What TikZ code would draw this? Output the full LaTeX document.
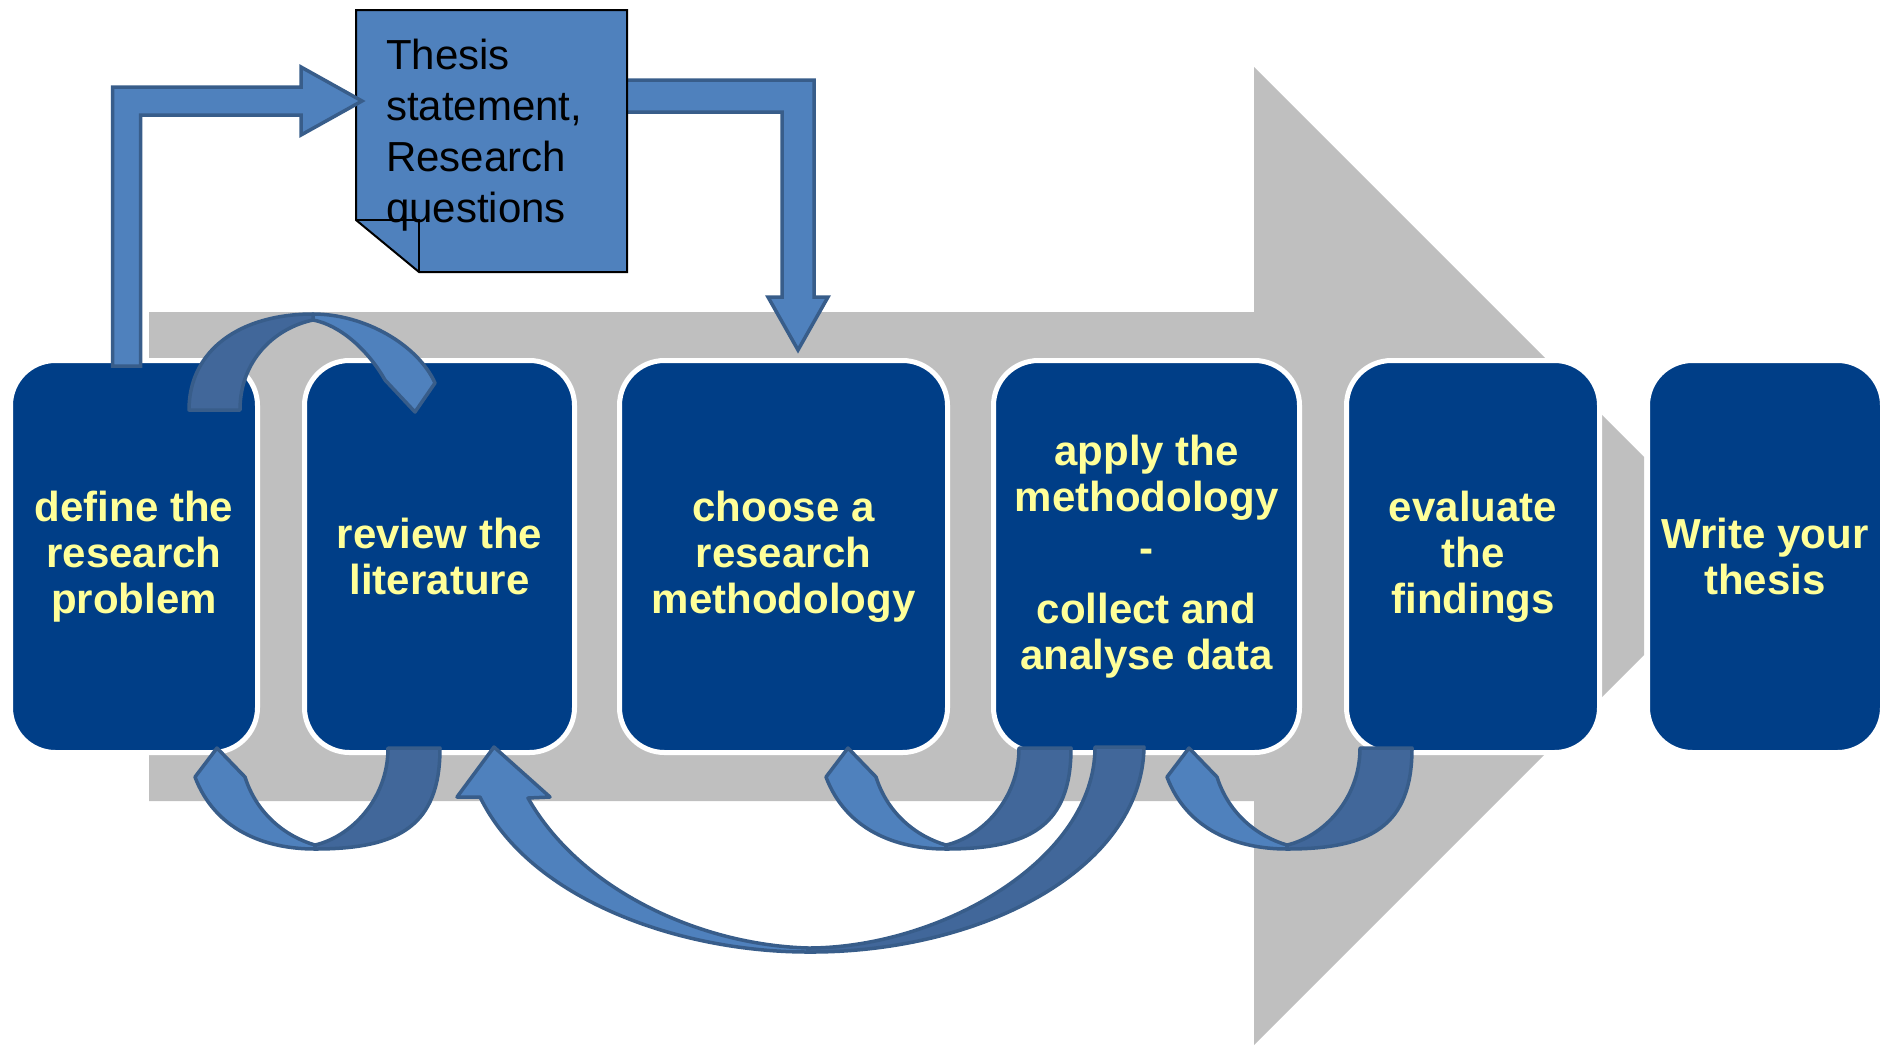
\documentclass[tikz,border=0pt]{standalone}
\usepackage{fontspec}
\setmainfont{Liberation Sans}
\definecolor{arrowgray}{RGB}{191,191,191}
\definecolor{boxblue}{RGB}{0,62,135}
\definecolor{textyellow}{RGB}{255,255,153}
\definecolor{arrowlight}{RGB}{79,129,189}
\definecolor{arrowdark}{RGB}{65,103,154}
\definecolor{arrowedge}{RGB}{56,93,138}
\tikzset{
  stepbox/.style={draw=white, line width=5pt, fill=boxblue, rounded corners=45pt,
    text=textyellow, font=\bfseries\fontsize{42}{46}\selectfont, align=center,
    minimum height=392pt, inner sep=0pt},
  blockarrow/.style={fill=arrowlight, draw=arrowedge, line width=3.5pt},
  ribbonlight/.style={fill=arrowlight, draw=arrowedge, line width=3.5pt, line join=round},
  ribbondark/.style={fill=arrowdark, draw=arrowedge, line width=3.5pt, line join=round}
}
\begin{document}
\begin{tikzpicture}[x=1pt,y=-1pt]
  \useasboundingbox (0,0) rectangle (1887,1045);

  % Dibujar la flecha gris de fondo
  \fill[arrowgray] (149,312) -- (1254,312) -- (1254,67) -- (1644,457) -- (1644,655)
    -- (1254,1045) -- (1254,801) -- (149,801) -- cycle;

  % Dibujar las cajas de los pasos
  \node[stepbox, minimum width=247pt] (define) at (134,556.5) {define the\\research\\problem};
  \node[stepbox, minimum width=270pt] (review) at (439.5,556.5) {review the\\literature};
  \node[stepbox, minimum width=328pt] (choose) at (783.5,556.5) {choose a\\research\\methodology};
  \node[stepbox, minimum width=306pt] (apply) at (1146.5,556.5) {apply the\\methodology\\[5pt]-\\[15pt]collect and\\analyse data};
  \node[stepbox, minimum width=253pt] (evaluate) at (1473,556.5) {evaluate\\the\\findings};
  \node[stepbox, minimum width=235pt] (write) at (1765,556.5) {Write your\\thesis};

  % Flecha de la hoja hacia la metodologia
  \draw[blockarrow] (620,80) -- (814,80) -- (814,297) -- (828,297) -- (798,350)
    -- (768,297) -- (782,297) -- (782,112) -- (620,112) -- cycle;

  % Dibujar la hoja con la esquina doblada
  \node[minimum width=271pt, minimum height=262pt, inner sep=0pt, outer sep=0pt] (sheet) at (491.5,141) {};
  \filldraw[fill=arrowlight, draw=black, line width=2pt] (sheet.north west) -- (sheet.north east)
    -- (sheet.south east) -- ([xshift=63pt]sheet.south west) -- ([yshift=52pt]sheet.south west) -- cycle;
  \draw[line width=1.5pt] ([yshift=52pt]sheet.south west) -- ([xshift=63pt,yshift=52pt]sheet.south west)
    -- ([xshift=63pt]sheet.south west);
  \node[anchor=north west, inner sep=0pt, align=left, font=\fontsize{42}{51}\selectfont] (thesis)
    at (386,39) {Thesis\\statement,\\Research\\questions};

  % Flecha del problema hacia la hoja
  \draw[blockarrow] (112.5,366) -- (112.5,87) -- (301,87) -- (301,67) -- (362,101)
    -- (301,135) -- (301,115) -- (140.5,115) -- (140.5,366) -- cycle;

  % Cinta de arriba
  \draw[ribbonlight] (313,314) .. controls (365,314) and (418,345) .. (435,383) -- (415,412)
    -- (385,380) .. controls (368,350) and (340,325) .. (313,320) -- cycle;
  \draw[ribbondark] (189,410) .. controls (189,350) and (240,314) .. (313,314) -- (313,320)
    .. controls (275,328) and (240,360) .. (240,410) -- cycle;

  % Cintas pequenas de abajo
  \foreach \px in {315,946,1287} {
    \begin{scope}[shift={(\px,845)}]
      \draw[ribbonlight] (-98,-97) -- (-120,-68) .. controls (-100,-15) and (-50,4) .. (0,4)
        -- (0,0) .. controls (-28,-8) and (-58,-30) .. (-70,-68) -- cycle;
      \draw[ribbondark] (73,-97) -- (125,-97) .. controls (125,-20) and (85,4) .. (0,4)
        -- (0,0) .. controls (35,-8) and (73,-45) .. (73,-97) -- cycle;
    \end{scope}
  }

  % Cinta grande de los datos a la literatura
  \draw[ribbonlight] (494,747) -- (550,797) -- (528,798) .. controls (580,890) and (700,945) .. (808,948)
    -- (808,952) .. controls (680,952) and (530,900) .. (480,797) -- (457,797) -- cycle;
  \draw[ribbondark] (1095,747) -- (1144,747) .. controls (1142,870) and (980,953) .. (808,952)
    -- (808,948) .. controls (940,948) and (1095,860) .. (1095,747) -- cycle;
\end{tikzpicture}
\end{document}
